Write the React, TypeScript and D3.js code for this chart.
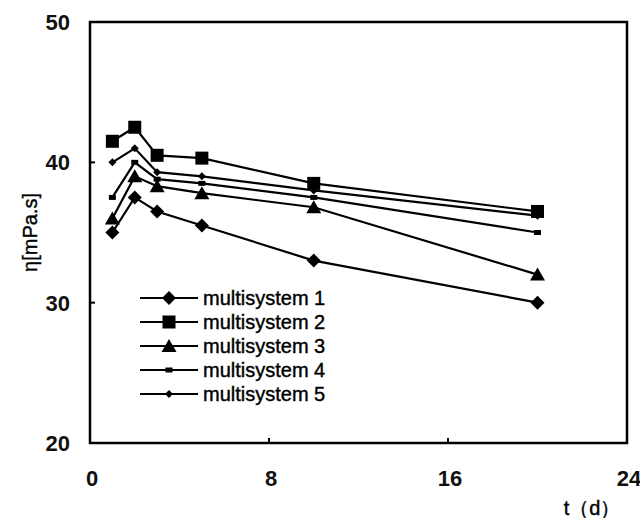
import { useEffect, useRef } from 'react'
import * as d3 from 'd3'

// days of measurement
const days = [1, 2, 3, 5, 10, 20]

const seriesNames = ['multisystem 1', 'multisystem 2', 'multisystem 3', 'multisystem 4', 'multisystem 5']
const ms1 = [35, 37.5, 36.5, 35.5, 33, 30]
const ms2 = [41.5, 42.5, 40.5, 40.3, 38.5, 36.5]
const ms3 = [36, 39, 38.3, 37.8, 36.8, 32]
const ms4 = [37.5, 40, 38.8, 38.5, 37.5, 35]
const ms5 = [40, 41, 39.3, 39, 38, 36.2]
const markerTypes = ['diamond', 'square', 'triangle', 'dash', 'smallDiamond']

const xTicks = [0, 8, 16, 24]
const yTicks = [20, 30, 40, 50]

function drawMarker(g, type, x, y) {
  if (type === 'diamond') {
    g.append('path').attr('d', `M${x},${y - 7}L${x + 7},${y}L${x},${y + 7}L${x - 7},${y}Z`).attr('fill', '#000')
  } else if (type === 'square') {
    g.append('rect').attr('x', x - 6.5).attr('y', y - 6.5).attr('width', 13).attr('height', 13).attr('fill', '#000')
  } else if (type === 'triangle') {
    g.append('path').attr('d', `M${x},${y - 7}L${x + 7.5},${y + 6}L${x - 7.5},${y + 6}Z`).attr('fill', '#000')
  } else if (type === 'dash') {
    g.append('rect').attr('x', x - 3.5).attr('y', y - 2.5).attr('width', 7).attr('height', 5).attr('fill', '#000')
  } else {
    g.append('path').attr('d', `M${x},${y - 4}L${x + 4},${y}L${x},${y + 4}L${x - 4},${y}Z`).attr('fill', '#000')
  }
}

export default function App() {
  const svgRef = useRef(null)

  useEffect(() => {
    const svg = d3.select(svgRef.current)
    svg.selectAll('*').remove()

    const x = d3.scaleLinear().domain([0, 24]).range([90, 627])
    const y = d3.scaleLinear().domain([20, 50]).range([443, 22])
    const font = 'Liberation Sans, Arial, sans-serif'

    // plot frame
    svg.append('rect')
      .attr('x', x(0)).attr('y', y(50))
      .attr('width', x(24) - x(0)).attr('height', y(20) - y(50))
      .attr('fill', 'none').attr('stroke', '#000').attr('stroke-width', 2.5)

    // inward ticks
    yTicks.slice(1, -1).forEach((t) => {
      svg.append('line').attr('x1', x(0)).attr('x2', x(0) + 5).attr('y1', y(t)).attr('y2', y(t))
        .attr('stroke', '#000').attr('stroke-width', 2)
    })
    xTicks.slice(1, -1).forEach((t) => {
      svg.append('line').attr('x1', x(t)).attr('x2', x(t)).attr('y1', y(20)).attr('y2', y(20) - 5)
        .attr('stroke', '#000').attr('stroke-width', 2)
    })

    // tick labels
    yTicks.forEach((t) => {
      svg.append('text').attr('x', 70).attr('y', y(t)).attr('dy', '0.36em')
        .attr('text-anchor', 'end').attr('font-family', font).attr('font-weight', 'bold')
        .attr('font-size', 22).attr('fill', '#111').text(t)
    })
    xTicks.forEach((t) => {
      svg.append('text').attr('x', x(t) + 2).attr('y', 486)
        .attr('text-anchor', 'middle').attr('font-family', font).attr('font-weight', 'bold')
        .attr('font-size', 22).attr('fill', '#111').text(t)
    })

    // axis titles
    svg.append('text').attr('transform', `translate(37,${(y(20) + y(50)) / 2}) rotate(-90)`)
      .attr('text-anchor', 'middle').attr('font-family', font).attr('font-size', 20)
      .attr('fill', '#000').attr('stroke', '#000').attr('stroke-width', 0.4).text('η[mPa.s]')
    svg.append('text').attr('x', 592).attr('y', 515).attr('text-anchor', 'middle')
      .attr('font-family', font).attr('font-size', 20).attr('fill', '#000')
      .attr('stroke', '#000').attr('stroke-width', 0.4).text('t（d）')

    const allSeries = [ms1, ms2, ms3, ms4, ms5]
    const line = d3.line().x((d) => x(d[0])).y((d) => y(d[1]))

    allSeries.forEach((vals, i) => {
      const pts = days.map((d, j) => [d, vals[j]])
      const g = svg.append('g')
      g.append('path').attr('d', line(pts)).attr('fill', 'none')
        .attr('stroke', '#000').attr('stroke-width', 2.2)
      pts.forEach((p) => drawMarker(g, markerTypes[i], x(p[0]), y(p[1])))
    })

    // legend
    seriesNames.forEach((name, i) => {
      const ly = 298 + i * 24
      const g = svg.append('g')
      g.append('line').attr('x1', 140).attr('x2', 198).attr('y1', ly).attr('y2', ly)
        .attr('stroke', '#000').attr('stroke-width', 2.2)
      drawMarker(g, markerTypes[i], 169, ly)
      g.append('text').attr('x', 203).attr('y', ly).attr('dy', '0.36em')
        .attr('font-family', font).attr('font-size', 20).attr('fill', '#000')
        .attr('stroke', '#000').attr('stroke-width', 0.4).text(name)
    })
  }, [])

  return (
    <svg ref={svgRef} width={640} height={518}
      style={{ position: 'absolute', left: 0, top: 0, background: '#fff' }} />
  )
}
